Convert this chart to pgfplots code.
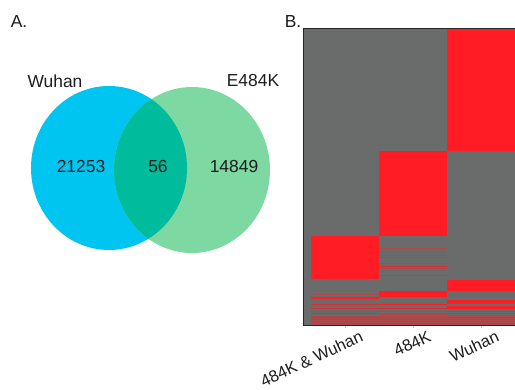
\documentclass[border=0pt]{standalone}
\usepackage{pgfplots}
\pgfplotsset{compat=1.18}
\usepackage{fontspec}
\setmainfont{Liberation Sans}
\definecolor{vblue}{RGB}{0,197,241}
\definecolor{vgreen}{RGB}{125,216,162}
\definecolor{vover}{RGB}{0,187,156}
\definecolor{hmred}{RGB}{255,28,36}
\definecolor{hmgray}{RGB}{106,108,107}
\definecolor{txt}{RGB}{28,28,28}
\colorlet{hmfaint}{hmred!45!hmgray}
\colorlet{hmmid}{hmred!72!hmgray}
\newcommand\cell[5]{\addplot[fill=#5,draw=none,forget plot] coordinates {(#1,#3) (#2,#3) (#2,#4) (#1,#4)};}
\begin{document}
\begin{tikzpicture}[x=1pt,y=1pt,font=\fontsize{17.4}{20}\selectfont]
% ---------------- Panel A: Venn diagram ----------------
\begin{axis}[at={(0pt,0pt)}, anchor=south west, scale only axis,
  width=300pt, height=389pt, xmin=0, xmax=300, ymin=0, ymax=389,
  hide axis, clip=false]
\fill[vblue] (axis cs:109,221) ellipse [x radius=78, y radius=82];
\fill[vgreen] (axis cs:192,219) ellipse [x radius=78, y radius=83];
\begin{scope}
\clip (axis cs:109,221) ellipse [x radius=78, y radius=82];
\fill[vover] (axis cs:192,219) ellipse [x radius=78, y radius=83];
\end{scope}
\node[txt] at (axis cs:19,367) {A.};
\node[txt] at (axis cs:293,367) {B.};
\node[txt] at (axis cs:55,308) {Wuhan};
\node[txt] at (axis cs:253,308) {E484K};
\node[txt] at (axis cs:81,222) {21253};
\node[txt] at (axis cs:158,222) {56};
\node[txt] at (axis cs:234,222) {14849};
\end{axis}
% ---------------- Panel B: heatmap ----------------
\begin{axis}[at={(303pt,64pt)}, anchor=south west, scale only axis,
  width=219.1pt, height=296pt, xmin=0.378, xmax=3.6, ymin=0, ymax=296,
  axis background/.style={fill=hmgray},
  axis line style={black!85, line width=1pt},
  ytick=\empty, xtick={1,2,3},
  xticklabels={484K \& Wuhan,484K,Wuhan},
  xtick pos=bottom, tick align=outside, major tick length=3pt,
  every tick/.style={black!25, thin},
  x tick label style={font=\fontsize{16.5}{19}\selectfont, text=txt, inner sep=0pt,
     xshift=19pt, yshift=-12.5pt, rotate=25, anchor=base east}]
% bottom band of mixed rows
\cell{0.5}{3.5}{0}{9}{hmfaint}
% column 3 : Wuhan
\cell{2.5}{3.5}{173.5}{296}{hmred}
\cell{2.5}{3.5}{34.3}{45.5}{hmred}
\cell{2.5}{3.5}{21.3}{25.3}{hmred}
\cell{2.5}{3.5}{16.3}{18.7}{hmred}
\cell{2.5}{3.5}{13.5}{14.5}{hmmid}
\cell{2.5}{3.5}{11.5}{12.5}{hmmid}
\cell{2.5}{3.5}{9.5}{10.5}{hmfaint}
\cell{2.5}{3.5}{7.2}{8.2}{hmmid}
\cell{2.5}{3.5}{5.2}{6.2}{hmmid}
\cell{2.5}{3.5}{3.2}{4.2}{hmmid}
\cell{2.5}{3.5}{1.5}{2.5}{hmmid}
% column 2 : 484K
\cell{1.5}{2.5}{89}{173.5}{hmred}
\cell{1.5}{2.5}{76}{76.6}{hmfaint}
\cell{1.5}{2.5}{73.7}{74.3}{hmfaint}
\cell{1.5}{2.5}{71.4}{72}{hmfaint}
\cell{1.5}{2.5}{69.4}{70}{hmfaint}
\cell{1.5}{2.5}{67.4}{68}{hmfaint}
\cell{1.5}{2.5}{61.4}{62}{hmfaint}
\cell{1.5}{2.5}{58.3}{59.1}{hmmid}
\cell{1.5}{2.5}{56}{56.6}{hmfaint}
\cell{1.5}{2.5}{49.4}{50}{hmfaint}
\cell{1.5}{2.5}{28}{33.7}{hmred}
\cell{1.5}{2.5}{19.7}{21.3}{hmred}
\cell{1.5}{2.5}{16.5}{17.5}{hmmid}
\cell{1.5}{2.5}{13.5}{14.5}{hmfaint}
\cell{1.5}{2.5}{9.5}{12.5}{hmfaint}
\cell{1.5}{2.5}{7.2}{8.2}{hmmid}
\cell{1.5}{2.5}{5.2}{6.2}{hmmid}
\cell{1.5}{2.5}{3.2}{4.2}{hmmid}
\cell{1.5}{2.5}{1.5}{2.5}{hmmid}
% column 1 : 484K & Wuhan
\cell{0.5}{1.5}{45.7}{89}{hmred}
\cell{0.5}{1.5}{30.6}{31.4}{hmfaint}
\cell{0.5}{1.5}{26.4}{27.6}{hmred}
\cell{0.5}{1.5}{20.2}{21.2}{hmmid}
\cell{0.5}{1.5}{16.5}{17.5}{hmmid}
\cell{0.5}{1.5}{13.5}{14.5}{hmfaint}
\cell{0.5}{1.5}{11.5}{12.5}{hmmid}
\cell{0.5}{1.5}{7.2}{8.2}{hmmid}
\cell{0.5}{1.5}{5.2}{6.2}{hmmid}
\cell{0.5}{1.5}{3.2}{4.2}{hmmid}
\cell{0.5}{1.5}{1.5}{2.5}{hmmid}
\end{axis}
\pgfresetboundingbox
\path[use as bounding box] (0,0) rectangle (515,389);
\end{tikzpicture}
\end{document}
